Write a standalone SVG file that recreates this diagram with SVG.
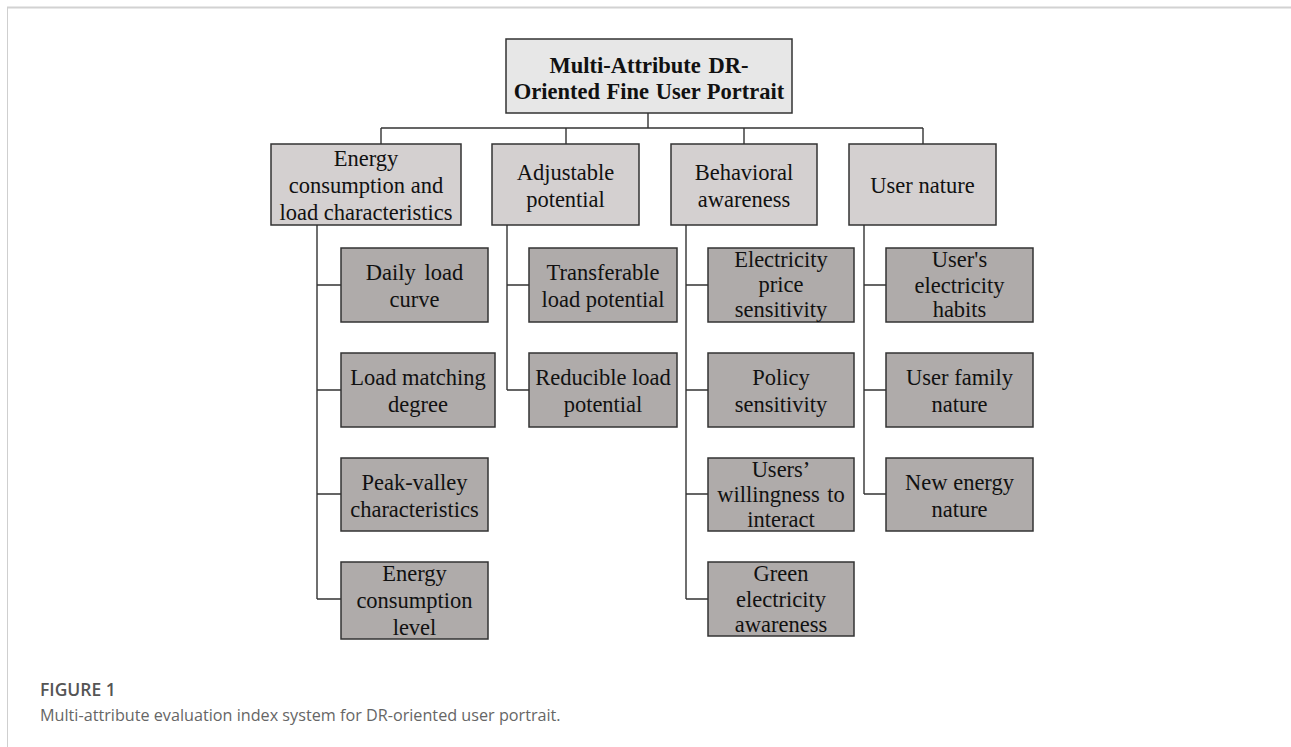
<svg xmlns="http://www.w3.org/2000/svg" width="1291" height="747" viewBox="0 0 1291 747">
<style>
.t{font-family:"Liberation Serif","Times New Roman",serif;font-size:22.5px;fill:#111;text-anchor:middle}
.b{font-weight:bold;font-size:22.5px}
.r{fill:#e7e7e7;stroke:#333;stroke-width:1.5}
.l1{fill:#d4d0d0;stroke:#333;stroke-width:1.5}
.l2{fill:#afabaa;stroke:#333;stroke-width:1.5}
.c{stroke:#333;stroke-width:1.4;fill:none}
.cap{font-family:"Open Sans","Noto Sans",sans-serif}
</style>
<rect width="1291" height="747" fill="#fff"/>
<line x1="7" y1="7.5" x2="1291" y2="7.5" stroke="#d2d2d2" stroke-width="2"/>
<line x1="7.5" y1="7" x2="7.5" y2="747" stroke="#cfcfcf" stroke-width="1"/>

<g id="connectors">
<path class="c" d="M648 113V128M381 128H923M381 128V144M566 128V144M744 128V144M923 128V144"/>
<path class="c" d="M317 225V599M317 285H341M317 390H341M317 494H341M317 599H341"/>
<path class="c" d="M507 225V390M507 285H529M507 390H529"/>
<path class="c" stroke-width="1.8" stroke="#222" d="M686 225V599M686 285H708M686 390H708M686 494H708M686 599H708"/>
<path class="c" stroke-width="1.8" stroke="#222" d="M864 225V494M864 285H886M864 390H886M864 494H886"/>
</g>

<g id="root"><rect class="r" x="506" y="39" width="286" height="74"/>
<text class="t b" x="649" y="73" word-spacing="2">Multi-Attribute DR-</text>
<text class="t b" x="649" y="99" word-spacing="1">Oriented Fine User Portrait</text></g>

<g id="energy"><rect class="l1" x="271" y="144" width="190" height="81"/>
<text class="t" x="366" y="165.5">Energy</text>
<text class="t" x="366" y="193">consumption and</text>
<text class="t" x="366" y="220">load characteristics</text></g>

<g id="adjustable"><rect class="l1" x="492" y="144" width="147" height="81"/>
<text class="t" x="565.5" y="180">Adjustable</text>
<text class="t" x="565.5" y="206.5">potential</text></g>

<g id="behavioral"><rect class="l1" x="671" y="144" width="146" height="81"/>
<text class="t" x="744" y="180">Behavioral</text>
<text class="t" x="744" y="206.5">awareness</text></g>

<g id="usernature"><rect class="l1" x="849" y="144" width="147" height="81"/>
<text class="t" x="922.5" y="193">User nature</text></g>

<g id="daily"><rect class="l2" x="341" y="248" width="147" height="74"/>
<text class="t" x="414.5" y="279.5" word-spacing="3">Daily load</text>
<text class="t" x="414.5" y="306.5">curve</text></g>

<g id="loadmatching"><rect class="l2" x="341" y="353" width="154" height="74"/>
<text class="t" x="418" y="384.5">Load matching</text>
<text class="t" x="418" y="411.5">degree</text></g>

<g id="peakvalley"><rect class="l2" x="341" y="458" width="147" height="73"/>
<text class="t" x="414.5" y="489.5">Peak-valley</text>
<text class="t" x="414.5" y="516.5">characteristics</text></g>

<g id="energylevel"><rect class="l2" x="341" y="562" width="147" height="77"/>
<text class="t" x="414.5" y="581">Energy</text>
<text class="t" x="414.5" y="608">consumption</text>
<text class="t" x="414.5" y="635">level</text></g>

<g id="transferable"><rect class="l2" x="529" y="248" width="148" height="74"/>
<text class="t" x="603" y="279.5">Transferable</text>
<text class="t" x="603" y="306.5">load potential</text></g>

<g id="reducible"><rect class="l2" x="529" y="353" width="148" height="74"/>
<text class="t" x="603" y="384.5">Reducible load</text>
<text class="t" x="603" y="411.5">potential</text></g>

<g id="priceSens"><rect class="l2" x="708" y="248" width="146" height="74"/>
<text class="t" x="781" y="267">Electricity</text>
<text class="t" x="781" y="292">price</text>
<text class="t" x="781" y="317">sensitivity</text></g>

<g id="policy"><rect class="l2" x="708" y="353" width="146" height="74"/>
<text class="t" x="781" y="384.5">Policy</text>
<text class="t" x="781" y="411.5">sensitivity</text></g>

<g id="willingness"><rect class="l2" x="708" y="458" width="146" height="73"/>
<text class="t" x="781" y="477">Users’</text>
<text class="t" x="781" y="502" word-spacing="2">willingness to</text>
<text class="t" x="781" y="527">interact</text></g>

<g id="green"><rect class="l2" x="708" y="562" width="146" height="74"/>
<text class="t" x="781" y="581">Green</text>
<text class="t" x="781" y="606.5">electricity</text>
<text class="t" x="781" y="632">awareness</text></g>

<g id="habits"><rect class="l2" x="886" y="248" width="147" height="74"/>
<text class="t" x="959.5" y="267">User's</text>
<text class="t" x="959.5" y="292.5">electricity</text>
<text class="t" x="959.5" y="317">habits</text></g>

<g id="family"><rect class="l2" x="886" y="353" width="147" height="74"/>
<text class="t" x="959.5" y="384.5">User family</text>
<text class="t" x="959.5" y="411.5">nature</text></g>

<g id="newenergy"><rect class="l2" x="886" y="458" width="147" height="73"/>
<text class="t" x="959.5" y="489.5">New energy</text>
<text class="t" x="959.5" y="516.5">nature</text></g>

<text class="cap" x="40" y="696" font-size="17.5" font-weight="600" fill="#555">FIGURE 1</text>
<text class="cap" x="40" y="721" font-size="16.2" fill="#666">Multi-attribute evaluation index system for DR-oriented user portrait.</text>
</svg>
